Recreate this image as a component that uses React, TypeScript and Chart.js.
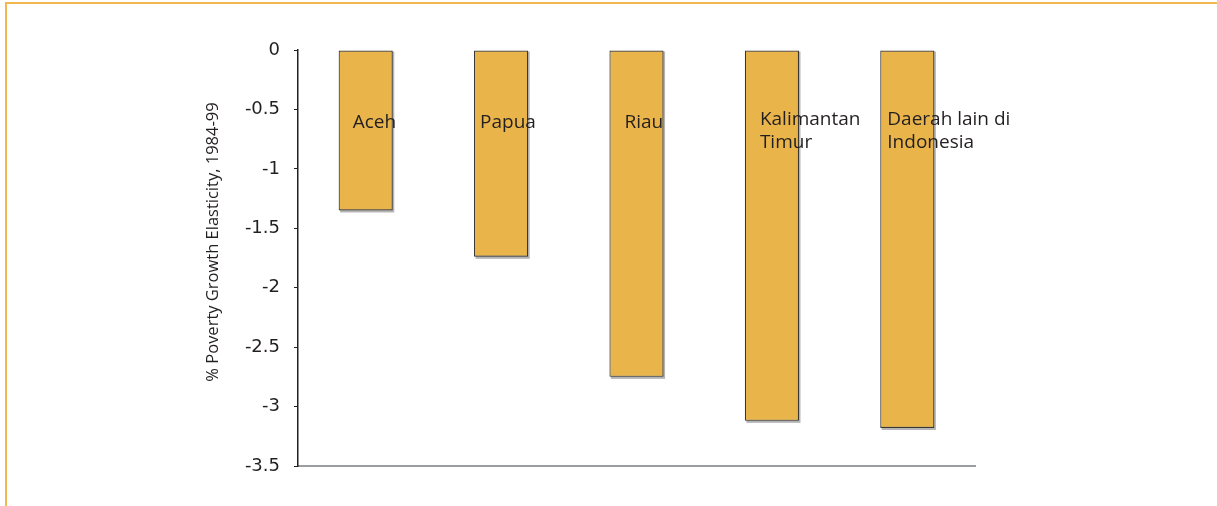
import React, { useEffect, useRef } from "react";
import { Chart, registerables } from "chart.js";

Chart.register(...registerables);

const categories: string[][] = [
  ["Aceh"],
  ["Papua"],
  ["Riau"],
  ["Kalimantan", "Timur"],
  ["Daerah lain di", "Indonesia"],
];
const elasticity: number[] = [-1.35, -1.74, -2.75, -3.12, -3.18];
const yTicks: number[] = [0, -0.5, -1, -1.5, -2, -2.5, -3, -3.5];
const yTitle = "% Poverty Growth Elasticity, 1984-99";
const labelValue = -0.65;
const labelDx: number[] = [-13, -21, -12, -12, -20];

const labelPlugin = {
  id: "customLabels",
  beforeDatasetsDraw(chart: any) {
    const ctx = chart.ctx;
    const meta = chart.getDatasetMeta(0);
    ctx.save();
    ctx.fillStyle = "#b4b4b4";
    meta.data.forEach((bar: any) => {
      const w = bar.width;
      const left = bar.x - w / 2;
      const top = Math.min(bar.y, bar.base);
      const h = Math.abs(bar.base - bar.y);
      ctx.fillRect(left + 1.5, top + 1, w, h + 1);
    });
    ctx.restore();
  },
  afterDatasetsDraw(chart: any) {
    const ctx = chart.ctx;
    const meta = chart.getDatasetMeta(0);
    const yScale = chart.scales.y;
    ctx.save();
    ctx.fillStyle = "#231f20";
    ctx.font = "19px 'Open Sans'";
    ctx.textAlign = "left";
    ctx.textBaseline = "alphabetic";
    const baseY = yScale.getPixelForValue(labelValue);
    meta.data.forEach((bar: any, i: number) => {
      const lines = categories[i];
      const x = bar.x + labelDx[i];
      const y0 = lines.length > 1 ? baseY - 2 : baseY + 1;
      lines.forEach((ln, j) => ctx.fillText(ln, x, y0 + j * 23));
    });
    // y axis title
    ctx.font = "16.5px 'Open Sans'";
    ctx.fillStyle = "#231f20";
    ctx.textAlign = "center";
    ctx.textBaseline = "middle";
    ctx.translate(213, 242);
    ctx.rotate(-Math.PI / 2);
    ctx.fillText(yTitle, 0, 0);
    ctx.restore();
  },
};

export default function App() {
  const ref = useRef<HTMLCanvasElement | null>(null);
  useEffect(() => {
    if (!ref.current) return;
    const chart = new Chart(ref.current, {
      type: "bar",
      data: {
        labels: categories.map((c) => c.join(" ")),
        datasets: [
          {
            data: elasticity,
            backgroundColor: "#e9b54a",
            borderColor: "#3a3632",
            borderWidth: 1.2,
            borderSkipped: false,
            barPercentage: 0.4,
            categoryPercentage: 1,
          },
        ],
      },
      options: {
        animation: false,
        responsive: false,
        maintainAspectRatio: false,
        layout: { padding: { left: 200, right: 242, top: 50, bottom: 40 } },
        plugins: {
          legend: { display: false },
          tooltip: { enabled: false },
          title: { display: false },
        },
        scales: {
          x: {
            type: "category",
            offset: true,
            grid: { display: false, drawTicks: false },
            ticks: { display: false },
            border: { display: true, color: "#9a9ea2", width: 2 },
            afterFit: (s: any) => {
              s.height = 0;
            },
          },
          y: {
            min: -3.5,
            max: 0,
            afterBuildTicks: (s: any) => {
              s.ticks = yTicks.map((v) => ({ value: v }));
            },
            ticks: {
              color: "#231f20",
              font: { family: "'DejaVu Sans'", size: 18 },
              padding: 14,
              callback: (v: any) => String(v),
            },
            grid: {
              drawOnChartArea: false,
              drawTicks: true,
              tickLength: 4,
              color: "#231f20",
              lineWidth: 1,
            },
            border: { display: true, color: "#231f20", width: 1.5 },
            afterFit: (s: any) => {
              s.width = 98;
            },
          },
        },
      },
      plugins: [labelPlugin],
    });
    return () => chart.destroy();
  }, []);
  return (
    <div style={{ position: "fixed", left: 0, top: 0, width: 1217, height: 506, background: "#fff", overflow: "hidden" }}>
      <div
        style={{
          position: "absolute",
          left: 5,
          top: 2,
          width: 1300,
          height: 600,
          borderTop: "2px solid #f0b84e",
          borderLeft: "2px solid #f0b84e",
        }}
      />
      <canvas ref={ref} width={1217} height={506} style={{ position: "absolute", left: 0, top: 0, width: 1217, height: 506 }} />
    </div>
  );
}
